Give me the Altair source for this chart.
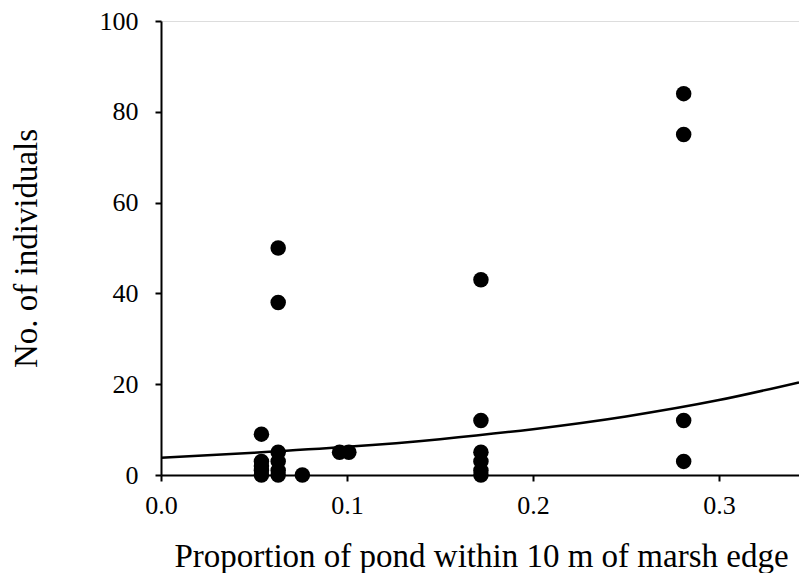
import altair as alt
import pandas as pd

# observed points
prop = [0.054, 0.054, 0.054, 0.054, 0.054,
        0.063, 0.063, 0.063, 0.063, 0.063, 0.063,
        0.076, 0.096, 0.101,
        0.172, 0.172, 0.172, 0.172, 0.172, 0.172,
        0.281, 0.281, 0.281, 0.281]
count = [9, 3, 2, 1, 0,
         50, 38, 5, 3, 1, 0,
         0, 5, 5,
         43, 12, 5, 3, 1, 0,
         84, 75, 12, 3]

# fitted curve
curve_x = [0.0, 0.05, 0.1, 0.15, 0.2, 0.25, 0.3, 0.343]
curve_y = [3.8, 4.9, 6.2, 7.9, 10.1, 12.9, 16.5, 20.4]

pts = pd.DataFrame({"x": prop, "y": count})
crv = pd.DataFrame({"x": curve_x, "y": curve_y})

FONT = "Liberation Serif"

xscale = alt.Scale(domain=[0, 0.343], nice=False, zero=False)
yscale = alt.Scale(domain=[0, 100], nice=False)

xaxis = alt.Axis(values=[0.0, 0.1, 0.2, 0.3], format=".1f", grid=False,
                 domainColor="black", domainWidth=2, tickColor="black",
                 tickWidth=2, tickSize=6, labelFont=FONT, labelFontSize=26,
                 labelColor="black", labelPadding=11, labelFlush=False,
                 title="Proportion of pond within 10 m of marsh edge",
                 titleFont=FONT, titleFontSize=33, titleFontWeight="normal",
                 titleColor="black", titleX=320, titleY=81,
                 titleAlign="center", titleBaseline="middle")
yaxis = alt.Axis(values=[0, 20, 40, 60, 80, 100], grid=False,
                 domainColor="black", domainWidth=2, tickColor="black",
                 tickWidth=2, tickSize=6, labelFont=FONT, labelFontSize=26,
                 labelColor="black", labelPadding=17, labelFlush=False,
                 title="No. of individuals", titleFont=FONT, titleFontSize=33,
                 titleFontWeight="normal", titleColor="black",
                 titleAngle=-90, titleX=-135, titleY=227,
                 titleAlign="center", titleBaseline="middle")

points = alt.Chart(pts).mark_circle(size=240, color="black", opacity=1).encode(
    x=alt.X("x:Q", scale=xscale, axis=xaxis),
    y=alt.Y("y:Q", scale=yscale, axis=yaxis),
)
line = alt.Chart(crv).mark_line(color="black", strokeWidth=2.5, interpolate="monotone").encode(
    x=alt.X("x:Q", scale=xscale),
    y=alt.Y("y:Q", scale=yscale),
)

chart = (line + points).properties(
    width=638, height=454,
    autosize=alt.AutoSizeParams(type="none"),
    padding={"left": 153, "top": 13, "right": 0, "bottom": 98},
).configure_view(stroke=None).configure(background="white")

chart.save("out.html", embed_options={"renderer": "svg", "actions": False})
